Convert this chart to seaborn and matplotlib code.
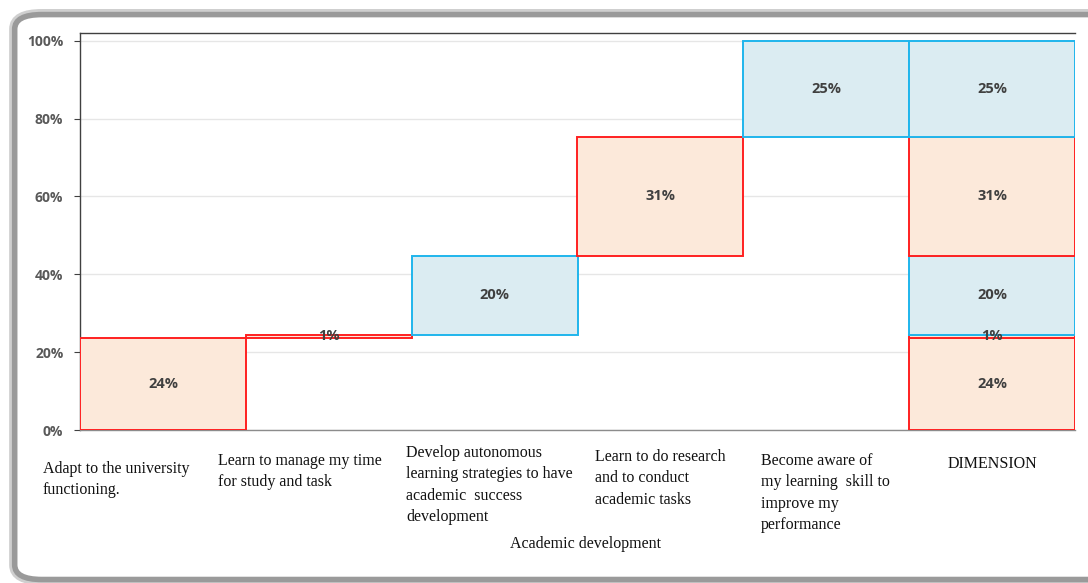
import matplotlib
matplotlib.use("Agg")
import matplotlib.pyplot as plt
import seaborn as sns
import pandas as pd
from matplotlib.patches import FancyBboxPatch

# --- data (percent)
categories = ["Adapt", "Manage time", "Autonomous", "Research", "Aware", "DIMENSION"]
step_values = [23.7, 0.8, 20.3, 30.6, 24.6]
step_kind = ["red", "red", "blue", "red", "blue"]
x_texts = [
    "Adapt to the university\nfunctioning.",
    "Learn to manage my time\nfor study and task",
    "Develop autonomous\nlearning strategies to have\nacademic  success\ndevelopment",
    "Learn to do research\nand to conduct\nacademic tasks",
    "Become aware of\nmy learning  skill to\nimprove my\nperformance",
    "DIMENSION",
]
group_title = "Academic development"

fills = {"red": "#fce9da", "blue": "#dbecf2"}
edges = {"red": "#ff2020", "blue": "#1fb5ec"}

# build segments: waterfall steps + the stacked total column
rows = []
base = 0
for cat, v, k in zip(categories[:-1], step_values, step_kind):
    rows.append((cat, v, base, k))
    rows.append((categories[-1], v, base, k))
    base += v
seg = pd.DataFrame(rows, columns=["cat", "value", "bottom", "kind"])

sns.set_style("white")
fig = plt.figure(figsize=(10.88, 5.83), dpi=100)

# rounded frame with grey shadow
frame = dict(boxstyle="round,pad=0,rounding_size=0.025", transform=fig.transFigure, facecolor="white")
fig.patches.append(FancyBboxPatch((0.0135, 0.006), 1.05, 0.969, edgecolor="#cfcfcf", linewidth=8, zorder=-2, **frame))
fig.patches.append(FancyBboxPatch((0.0135, 0.006), 1.05, 0.969, edgecolor="#9a9a9a", linewidth=4, zorder=-1, **frame))

ax = fig.add_axes([80 / 1088, 1 - 430 / 583, 995 / 1088, (430 - 33) / 583])

for _, r in seg.iterrows():
    sns.barplot(x=[r["cat"]], y=[r["value"]], order=categories, bottom=r["bottom"], width=1.0,
                color=fills[r["kind"]], saturation=1, edgecolor=edges[r["kind"]], linewidth=1.4,
                ax=ax, zorder=3)
    ax.text(categories.index(r["cat"]), r["bottom"] + r["value"] / 2, f"{round(r['value'])}%",
            ha="center", va="center", fontsize=10.5, fontweight="bold", color="#404040",
            family="Open Sans", zorder=4)

ax.set_ylim(0, 102)
ax.set_xlim(-0.5, len(categories) - 0.5)
ax.set_yticks([0, 20, 40, 60, 80, 100])
ax.set_yticklabels([f"{t}%" for t in [0, 20, 40, 60, 80, 100]], fontsize=10, fontweight="bold",
                   color="#595959", family="Open Sans")
ax.yaxis.grid(True, color="#e6e6e6", linewidth=1)
ax.set_axisbelow(True)
ax.tick_params(axis="y", left=True, length=4, color="#404040", pad=8)
ax.tick_params(axis="x", bottom=False, labelbottom=False)
ax.set_xlabel("")
ax.set_ylabel("")
ax.spines["right"].set_visible(False)
ax.spines["top"].set_color("#404040")
ax.spines["left"].set_color("#404040")
ax.spines["bottom"].set_color("#8c8c8c")
for s in ["top", "left", "bottom"]:
    ax.spines[s].set_linewidth(1)

# category texts under the axis
text_pos = [(43, 461, "left"), (218, 453, "left"), (406, 445, "left"),
            (595, 449, "left"), (761, 453, "left"), (992, 456, "center")]
for (px, py, ha), t in zip(text_pos, x_texts):
    fig.text(px / 1088, 1 - py / 583, t, ha=ha, va="top", fontsize=11.5, linespacing=1.44,
             family="Liberation Serif", color="#111111")
fig.text(585 / 1088, 1 - 536 / 583, group_title, ha="center", va="top", fontsize=11.5,
         family="Liberation Serif", color="#111111")

fig.savefig("out.png", dpi=100)
